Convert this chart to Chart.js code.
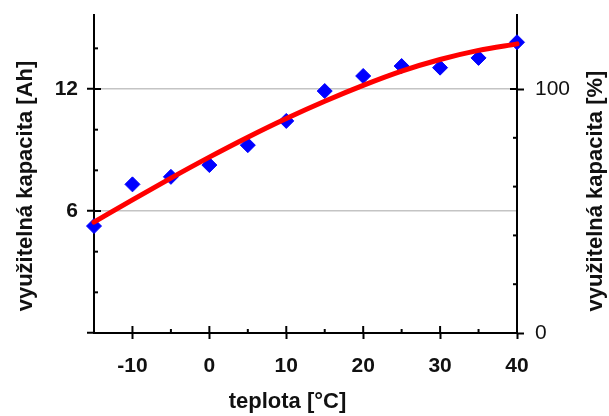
<!DOCTYPE html>
<html>
<head>
<meta charset="utf-8">
<script src="https://cdn.jsdelivr.net/npm/chart.js@4.4.0/dist/chart.umd.min.js"></script>
<style>
  html, body { margin: 0; padding: 0; background: #fff; }
  canvas { display: block; }
</style>
</head>
<body>
<canvas id="capacityChart" width="609" height="416"></canvas>
<script>
// Temperatures of the measurements [°C]
const temperatures = [-15, -10, -5, 0, 5, 10, 15, 20, 25, 30, 35, 40];
// Measured usable capacity [Ah] (blue diamonds)
const measuredCapacity = [5.26, 7.31, 7.68, 8.26, 9.24, 10.43, 11.9, 12.64, 13.13, 13.05, 13.53, 14.3];
// Trend curve [Ah] (red line)
const fittedCapacity = [5.45, 6.55, 7.62, 8.65, 9.63, 10.55, 11.4, 12.18, 12.88, 13.45, 13.9, 14.22];

// Labelled ticks
const xTickLabels = [-10, 0, 10, 20, 30, 40];
const ahTickLabels = [6, 12];
const percentTickLabels = [0, 50, 100];

// 12 Ah is 100 %
const nominalCapacity = 12;
const ahMax = 15.64;
const percentMax = ahMax / nominalCapacity * 100;

const xTitle = 'teplota [°C]';
const leftTitle = 'využitelná kapacita [Ah]';
const rightTitle = 'využitelná kapacita [%]';

const fontFamily = "'Liberation Sans', Arial, sans-serif";
Chart.defaults.font.family = fontFamily;
Chart.defaults.color = '#111';

// Major ticks get a longer mark and (on the Ah axis) a grey grid line
function isMajor(scaleId, value) {
  if (scaleId === 'x') return value % 10 === 0;
  if (scaleId === 'yAh') return value % 6 === 0;
  return value % 50 === 0;
}

// Short tick marks pointing into the plot area
const innerTicks = {
  id: 'innerTicks',
  beforeDatasetsDraw(chart) {
    const ctx = chart.ctx;
    const area = chart.chartArea;
    ctx.save();
    ctx.strokeStyle = '#000';
    ctx.lineWidth = 2;
    ['x', 'yAh', 'yPct'].forEach(id => {
      const scale = chart.scales[id];
      scale.ticks.forEach(t => {
        const p = scale.getPixelForValue(t.value);
        const len = isMajor(id, t.value) ? 7 : 4;
        ctx.beginPath();
        if (id === 'x') {
          if (t.value === scale.min) return;
          ctx.moveTo(p, area.bottom);
          ctx.lineTo(p, area.bottom - len);
        } else if (id === 'yAh') {
          if (t.value === 0) return;
          ctx.moveTo(area.left, p);
          ctx.lineTo(area.left + len, p);
        } else {
          if (t.value === 0) return;
          ctx.moveTo(area.right, p);
          ctx.lineTo(area.right - len, p);
        }
        ctx.stroke();
      });
    });
    ctx.restore();
  }
};

// Axis titles (both vertical ones read bottom to top)
const axisTitles = {
  id: 'axisTitles',
  afterDraw(chart) {
    const ctx = chart.ctx;
    const area = chart.chartArea;
    const midY = (area.top + area.bottom) / 2 + 12;
    ctx.save();
    ctx.fillStyle = '#111';
    ctx.font = 'bold 22px ' + fontFamily;
    ctx.textAlign = 'center';
    ctx.textBaseline = 'middle';

    ctx.fillText(xTitle, (area.left + area.right) / 2 - 18, 402);

    ctx.save();
    ctx.translate(26, midY);
    ctx.rotate(-Math.PI / 2);
    ctx.fillText(leftTitle, 0, 0);
    ctx.restore();

    ctx.save();
    ctx.translate(596, midY + 5);
    ctx.rotate(-Math.PI / 2);
    ctx.fillText(rightTitle, 0, 0);
    ctx.restore();

    ctx.restore();
  }
};

const trendPoints = temperatures.map((t, i) => ({ x: t, y: fittedCapacity[i] }));
const measuredPoints = temperatures.map((t, i) => ({ x: t, y: measuredCapacity[i] }));

new Chart(document.getElementById('capacityChart'), {
  type: 'scatter',
  data: {
    datasets: [
      {
        type: 'line',
        data: trendPoints,
        borderColor: '#ff0000',
        borderWidth: 5,
        borderCapStyle: 'round',
        pointRadius: 0,
        cubicInterpolationMode: 'monotone',
        fill: false,
        clip: false,
        xAxisID: 'x',
        yAxisID: 'yAh'
      },
      {
        type: 'scatter',
        data: measuredPoints,
        pointStyle: 'rectRot',
        pointRadius: 7.5,
        backgroundColor: '#0000ff',
        borderColor: '#0000ff',
        borderWidth: 1,
        clip: false,
        xAxisID: 'x',
        yAxisID: 'yAh'
      }
    ]
  },
  options: {
    responsive: false,
    animation: false,
    layout: { padding: { top: 15 }, autoPadding: false },
    plugins: {
      legend: { display: false },
      tooltip: { enabled: false }
    },
    scales: {
      x: {
        type: 'linear',
        min: -15,
        max: 40,
        afterFit: s => { s.height = 83; s.paddingLeft = 0; s.paddingRight = 0; },
        border: { color: '#000', width: 2 },
        grid: {
          drawOnChartArea: false,
          tickLength: 6,
          tickWidth: 2,
          tickColor: c => (c.tick && isMajor('x', c.tick.value) ? '#000' : 'rgba(0,0,0,0)')
        },
        ticks: {
          stepSize: 5,
          padding: 15,
          font: { size: 21, weight: 'bold' },
          callback: v => (xTickLabels.includes(v) ? v : '')
        }
      },
      yAh: {
        type: 'linear',
        position: 'left',
        min: 0,
        max: ahMax,
        afterFit: s => { s.width = 94; s.paddingTop = 0; s.paddingBottom = 0; },
        border: { color: '#000', width: 2 },
        grid: {
          lineWidth: 1.5,
          color: c => (c.tick && ahTickLabels.includes(c.tick.value) ? '#c4c4c4' : 'rgba(0,0,0,0)'),
          tickLength: 7,
          tickWidth: 2,
          tickColor: c => (c.tick && isMajor('yAh', c.tick.value) ? '#000' : 'rgba(0,0,0,0)')
        },
        ticks: {
          stepSize: 2,
          includeBounds: false,
          padding: 9,
          font: { size: 21, weight: 'bold' },
          callback: v => (ahTickLabels.includes(v) ? v : '')
        }
      },
      yPct: {
        type: 'linear',
        position: 'right',
        min: 0,
        max: percentMax,
        afterFit: s => { s.width = 92; s.paddingTop = 0; s.paddingBottom = 0; },
        border: { color: '#000', width: 2 },
        grid: {
          drawOnChartArea: false,
          tickLength: 7,
          tickWidth: 2,
          tickColor: c => (c.tick && isMajor('yPct', c.tick.value) ? '#000' : 'rgba(0,0,0,0)')
        },
        ticks: {
          stepSize: 10,
          includeBounds: false,
          padding: 11,
          font: { size: 21 },
          callback: v => (percentTickLabels.includes(v) ? v : '')
        }
      }
    }
  },
  plugins: [innerTicks, axisTitles]
});
</script>
</body>
</html>
